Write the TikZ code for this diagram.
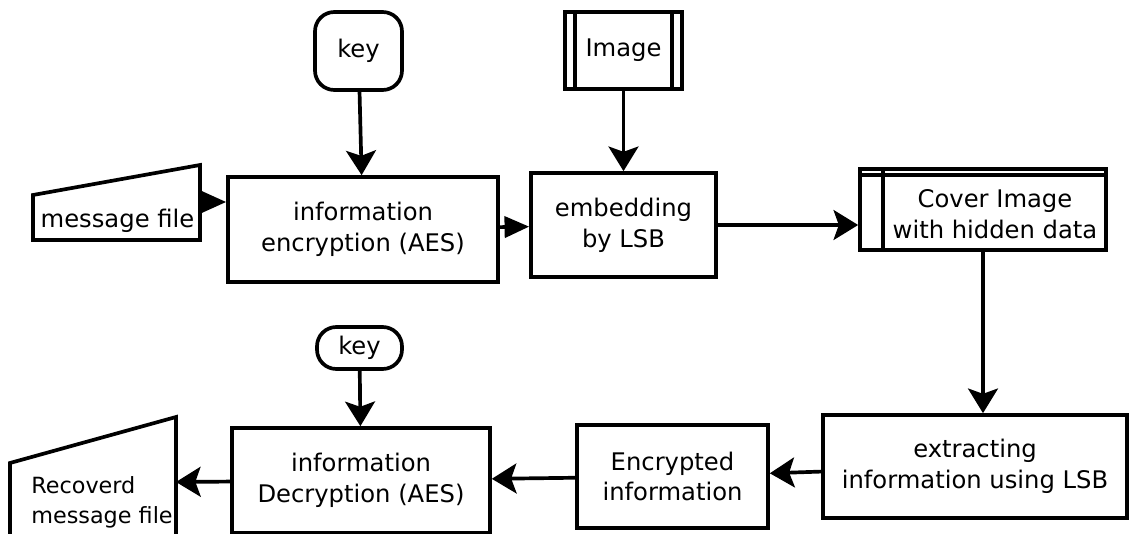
\documentclass[tikz,border=0pt]{standalone}
\usepackage{fontspec}
\setmainfont{DejaVu Sans}
\usetikzlibrary{arrows.meta}
\tikzset{
  block/.style={draw, line width=2.1pt, align=center, inner sep=0pt},
  terminal/.style={block, rounded corners=11pt},
  flow/.style={line width=2.1pt, -{Stealth[length=14pt, width=17pt, inset=3pt]}},
  shortflow/.style={line width=2.1pt, -{Triangle[length=14pt, width=12pt]}},
}
\begin{document}
\begin{tikzpicture}[x=0.02cm, y=-0.02cm, font=\fontsize{13.8}{17.5}\selectfont]
  \useasboundingbox (0,0) rectangle (1134,534);

  % Define nodes
  \node[terminal, minimum width=1.74cm, minimum height=1.56cm] (key1) at (358.5,51) {key};
  \node[block, minimum width=2.34cm, minimum height=1.54cm] (image) at (623.5,50.5) {Image};
  \node[block, minimum width=5.4cm, minimum height=2.1cm] (enc) at (363,229.5) {information\\encryption (AES)};
  \node[block, minimum width=3.7cm, minimum height=2.08cm] (embed) at (623.5,225) {embedding\\by LSB};
  \node[block, minimum width=4.92cm, minimum height=1.62cm] (cover) at (983,209.5) {};
  \node[align=center, inner sep=0pt] (covertext) at (995,214) {Cover Image\\with hidden data};
  \node[block, minimum width=6.08cm, minimum height=2.06cm] (extract) at (975,466.5) {extracting\\information using LSB};
  \node[block, minimum width=3.82cm, minimum height=2.06cm] (encrypted) at (672.5,476.5) {Encrypted\\information};
  \node[block, minimum width=5.16cm, minimum height=2.1cm] (dec) at (361,480.5) {information\\Decryption (AES)};
  \node[terminal, minimum width=1.7cm, minimum height=0.84cm] (key2) at (359.5,348) {key};

  % Manual inputs
  \draw[line width=2.1pt] (33,195) -- (200,165) -- (200,240) -- (33,240) -- cycle;
  \node[inner sep=0pt] (msg) at (117.5,221) {message file};
  \coordinate (msgout) at (200,202);
  \draw[line width=2.1pt] (10,545) -- (10,463) -- (176,417) -- (176,545);
  \node[anchor=west, align=left, inner sep=0pt, font=\fontsize{12.7}{17}\selectfont] (recovered) at (31,502) {Recoverd\\message file};
  \coordinate (recin) at (176,482);

  % Inner lines
  \draw[line width=2.1pt] ([xshift=0.24cm]image.north west) -- ([xshift=0.24cm]image.south west);
  \draw[line width=2.1pt] ([xshift=-0.24cm]image.north east) -- ([xshift=-0.24cm]image.south east);
  \draw[line width=2.1pt] ([xshift=0.5cm]cover.north west) -- ([xshift=0.5cm]cover.south west);
  \draw[line width=2.1pt] ([yshift=-0.16cm]cover.north west) -- ([yshift=-0.16cm]cover.north east);

  % Draw edges
  \draw[flow] (key1) -- (enc);
  \draw[flow] (image) -- (embed);
  \draw[shortflow] (msgout) -- (msgout -| enc.west);
  \draw[shortflow] (enc) -- (embed);
  \draw[flow] (embed.east) -- (embed.east -| cover.west);
  \draw[flow] (cover.south) -- (cover.south |- extract.north);
  \draw[flow] (extract) -- (encrypted);
  \draw[flow] (encrypted) -- (dec);
  \draw[flow] (key2) -- (dec);
  \draw[flow] (dec) -- (recin);
\end{tikzpicture}
\end{document}
